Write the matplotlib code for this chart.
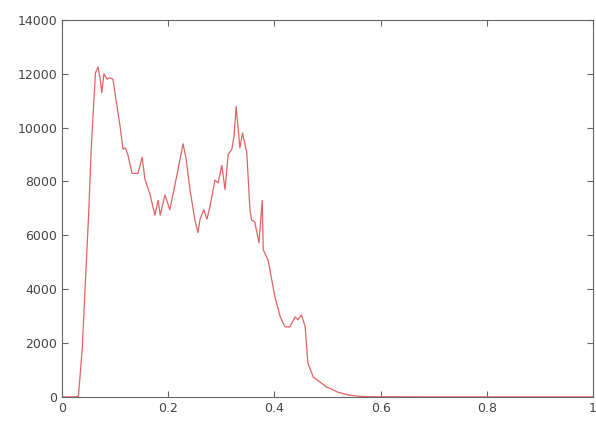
import matplotlib
matplotlib.use("Agg")
import matplotlib.pyplot as plt
import numpy as np

x = [0.0, 0.026, 0.031, 0.038, 0.044, 0.050, 0.055, 0.060, 0.063, 0.068, 0.072, 0.075,
     0.079, 0.085, 0.090, 0.096, 0.102, 0.109, 0.115, 0.119, 0.124, 0.132, 0.143, 0.151,
     0.156, 0.166, 0.175, 0.181, 0.185, 0.194, 0.203, 0.213, 0.222, 0.228, 0.234, 0.241,
     0.250, 0.256, 0.260, 0.267, 0.273, 0.279, 0.288, 0.294, 0.301, 0.307, 0.313, 0.320,
     0.324, 0.328, 0.335, 0.340, 0.348, 0.354, 0.357, 0.363, 0.371, 0.377, 0.379, 0.388,
     0.401, 0.411, 0.420, 0.429, 0.439, 0.444, 0.451, 0.458, 0.463, 0.473, 0.498,
     0.52, 0.54, 0.561, 0.58, 0.7, 0.85, 1.0]
y = [0, 0, 30, 1750, 4230, 6700, 9170, 11000, 12030, 12250, 11800, 11300,
     12000, 11800, 11850, 11800, 11000, 10100, 9200, 9250, 9000, 8300, 8300, 8900,
     8100, 7500, 6750, 7300, 6750, 7500, 6950, 7900, 8800, 9400, 8800, 7700,
     6600, 6100, 6600, 6950, 6600, 7100, 8050, 7950, 8600, 7700, 9000, 9200,
     9700, 10780, 9250, 9800, 9060, 6940, 6570, 6500, 5720, 7300, 5460, 5090,
     3710, 2970, 2600, 2600, 2970, 2860, 3040, 2600, 1260, 740, 370,
     170, 70, 20, 5, 0, 0, 0]

xticks = [0, 0.2, 0.4, 0.6, 0.8, 1]
xticklabels = ['0', '0.2', '0.4', '0.6', '0.8', '1']
yticks = [0, 2000, 4000, 6000, 8000, 10000, 12000, 14000]

fig = plt.figure(figsize=(5.96, 4.24), dpi=100)
ax = fig.add_axes([0.104, 0.064, 0.891, 0.889])
ax.plot(x, y, color='#e06464', lw=0.9)
ax.set_xlim(0, 1)
ax.set_ylim(0, 14000)
ax.set_xticks(xticks)
ax.set_xticklabels(xticklabels)
ax.set_yticks(yticks)
for sp in ax.spines.values():
    sp.set_color('#666666')
    sp.set_linewidth(0.8)
ax.tick_params(direction='in', length=4, width=0.8, color='#666666',
               labelsize=9, labelcolor='#444444', top=True, right=True)
fig.savefig('out.png', dpi=100)
